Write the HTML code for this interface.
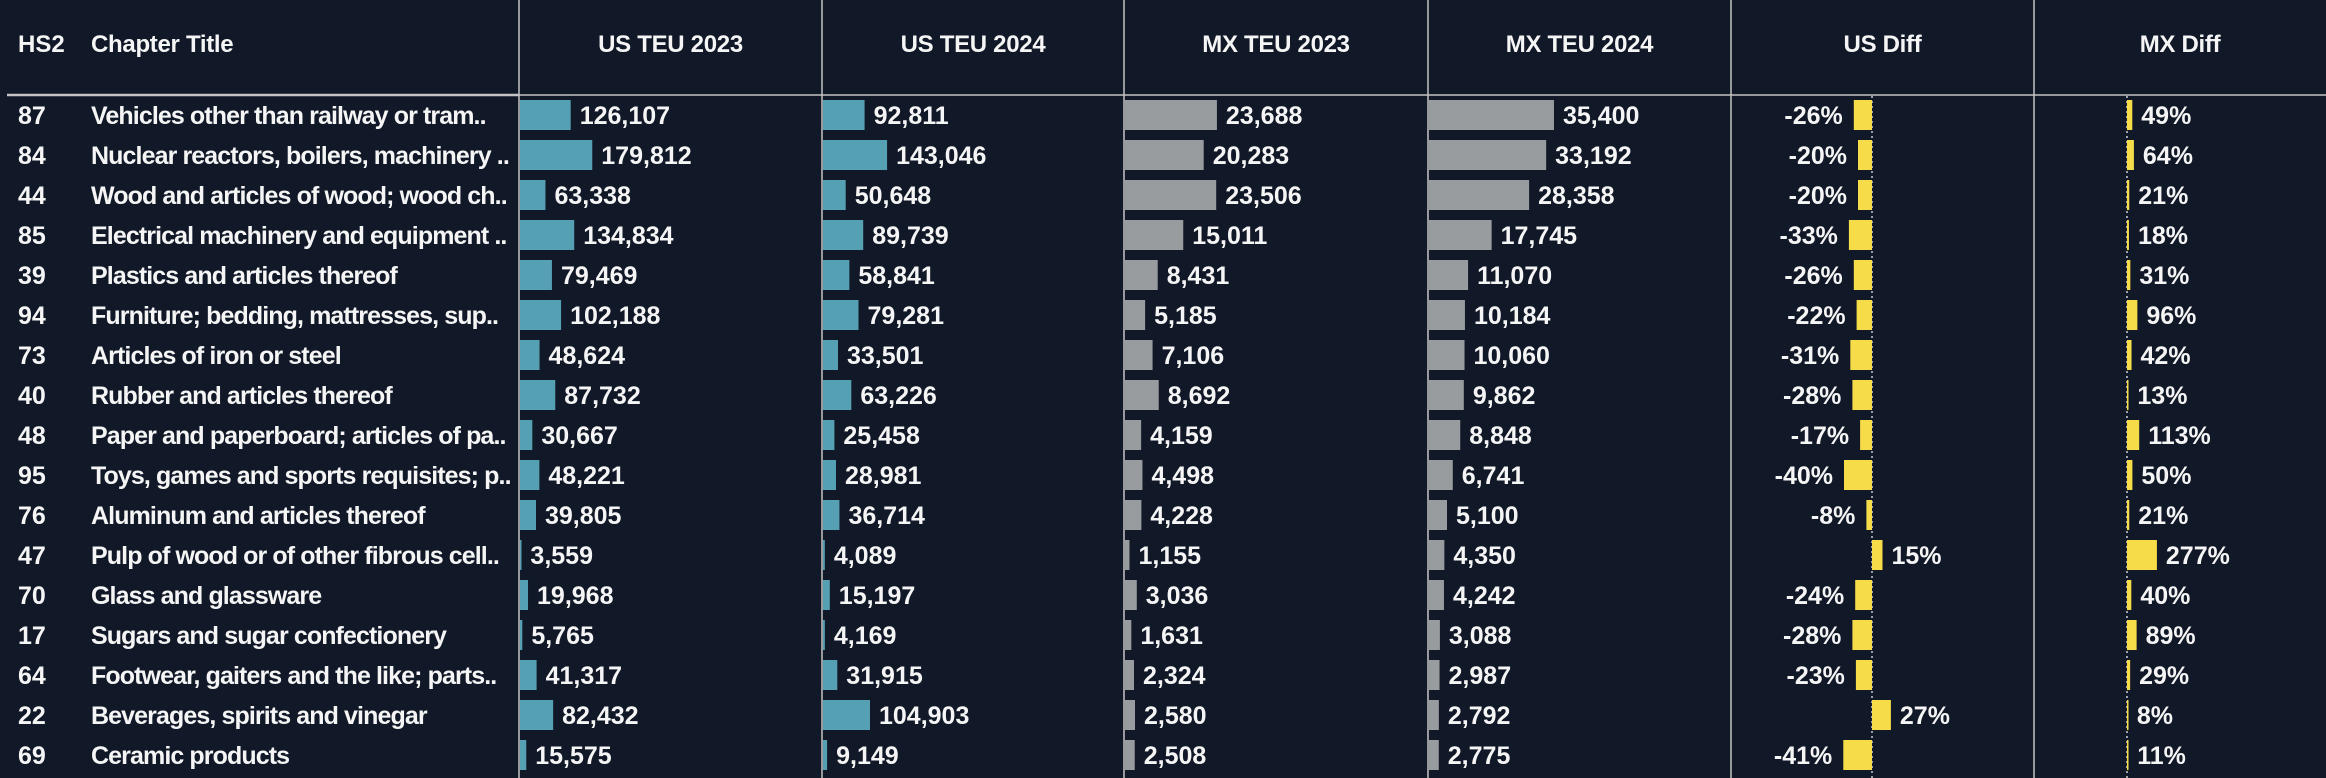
<!DOCTYPE html>
<html><head><meta charset="utf-8">
<style>
html,body{margin:0;padding:0;background:#111827;}
svg{display:block;}
text{font-family:"Liberation Sans",sans-serif;font-weight:bold;fill:#f5f5f5;}
</style></head>
<body>
<svg id="chart" width="2326" height="778" viewBox="0 0 2326 778" xmlns="http://www.w3.org/2000/svg">
<rect x="0" y="0" width="2326" height="778" fill="#111827"/>
<g id="grid"></g>
<g id="headers"></g>
<g id="rows"></g>
</svg>
<script>
const hs2 = ["87","84","44","85","39","94","73","40","48","95","76","47","70","17","64","22","69"];
const titles = ["Vehicles other than railway or tram..","Nuclear reactors, boilers, machinery ..","Wood and articles of wood; wood ch..","Electrical machinery and equipment ..","Plastics and articles thereof","Furniture; bedding, mattresses, sup..","Articles of iron or steel","Rubber and articles thereof","Paper and paperboard; articles of pa..","Toys, games and sports requisites; p..","Aluminum and articles thereof","Pulp of wood or of other fibrous cell..","Glass and glassware","Sugars and sugar confectionery","Footwear, gaiters and the like; parts..","Beverages, spirits and vinegar","Ceramic products"];
const us2023 = [126107,179812,63338,134834,79469,102188,48624,87732,30667,48221,39805,3559,19968,5765,41317,82432,15575];
const us2024 = [92811,143046,50648,89739,58841,79281,33501,63226,25458,28981,36714,4089,15197,4169,31915,104903,9149];
const mx2023 = [23688,20283,23506,15011,8431,5185,7106,8692,4159,4498,4228,1155,3036,1631,2324,2580,2508];
const mx2024 = [35400,33192,28358,17745,11070,10184,10060,9862,8848,6741,5100,4350,4242,3088,2987,2792,2775];
const usDiff = [-26,-20,-20,-33,-26,-22,-31,-28,-17,-40,-8,15,-24,-28,-23,27,-41];
const mxDiff = [49,64,21,18,31,96,42,13,113,50,21,277,40,89,29,8,11];
const headerLabels = ["US TEU 2023","US TEU 2024","MX TEU 2023","MX TEU 2024","US Diff","MX Diff"];

const NS="http://www.w3.org/2000/svg";
const svg=document.getElementById('chart');
const grid=document.getElementById('grid'), headers=document.getElementById('headers'), rows=document.getElementById('rows');
function mk(tag,attrs,parent){const e=document.createElementNS(NS,tag);for(const k in attrs)e.setAttribute(k,attrs[k]);parent.appendChild(e);return e;}
const fmt=v=>v.toLocaleString('en-US');
const colX=[519,822,1124,1428,1731,2034,2326];
const rowY=i=>100+i*40;
const barH=30;
const sUS23=v=>v*0.000402, sUS24=v=>v*0.000448, sMX23=v=>v*0.00388, sMX24=v=>v*0.00353;
const usZero=1872, mxZero=2127;
const sUSD=v=>v*0.7, sMXD=v=>v*0.108;

for(let c=0;c<6;c++){
  const l=mk('line',{x1:colX[c],y1:0,x2:colX[c],y2:778,stroke:'#c4c4c4','stroke-width':1.5},grid);
  
  
}
let hl=mk('line',{x1:7,y1:95,x2:519,y2:95,stroke:'#c4c4c4','stroke-width':2.5},grid);


hl=mk('line',{x1:519,y1:95,x2:2326,y2:95,stroke:'#c4c4c4','stroke-width':1.5},grid);


[usZero,mxZero].forEach(x=>{
  const z=mk('line',{x1:x,y1:96,x2:x,y2:778,stroke:'#ffffff','stroke-width':1.2,'stroke-dasharray':'2,3'},grid);
  
  
});

let t=mk('text',{x:18,y:52,'font-size':24},headers);t.textContent='HS2';


t=mk('text',{x:91,y:52,'font-size':24,'letter-spacing':'-0.3'},headers);t.textContent='Chapter Title';


headerLabels.forEach((h,c)=>{
  const e=mk('text',{x:(colX[c]+colX[c+1])/2,y:52,'font-size':24,'text-anchor':'middle','letter-spacing':'-0.3'},headers);
  e.textContent=h;
  
  
});

function barCol(vals,x0,scale,color,name,i){
  const w=scale(vals[i]);
  const r=mk('rect',{x:x0+1,y:rowY(i),width:Math.max(w,1.5),height:barH,fill:color},rows);
  
  
  const tx=mk('text',{x:x0+1+w+9,y:rowY(i)+24,'font-size':25},rows);
  tx.textContent=fmt(vals[i]);
  
  
}
function diffCol(vals,zero,scale,name,i){
  const v=vals[i], w=scale(Math.abs(v));
  const x=v<0?zero-w:zero;
  const r=mk('rect',{x:x,y:rowY(i),width:Math.max(w,1.5),height:barH,fill:'#f7dc4a'},rows);
  
  
  const tx=mk('text',{x:v<0?zero-w-11:zero+w+9,y:rowY(i)+24,'font-size':25,'text-anchor':v<0?'end':'start'},rows);
  tx.textContent=v+'%';
  
  
}
for(let i=0;i<hs2.length;i++){
  const a=mk('text',{x:18,y:rowY(i)+24,'font-size':25},rows);a.textContent=hs2[i];
  
  
  const b=mk('text',{x:91,y:rowY(i)+24,'font-size':25,'letter-spacing':'-0.9'},rows);b.textContent=titles[i];
  
  
  barCol(us2023,colX[0],sUS23,'#56a0b4','us-teu-2023',i);
  barCol(us2024,colX[1],sUS24,'#56a0b4','us-teu-2024',i);
  barCol(mx2023,colX[2],sMX23,'#999c9e','mx-teu-2023',i);
  barCol(mx2024,colX[3],sMX24,'#999c9e','mx-teu-2024',i);
  diffCol(usDiff,usZero,sUSD,'us-diff',i);
  diffCol(mxDiff,mxZero,sMXD,'mx-diff',i);
}
</script>
</body></html>
